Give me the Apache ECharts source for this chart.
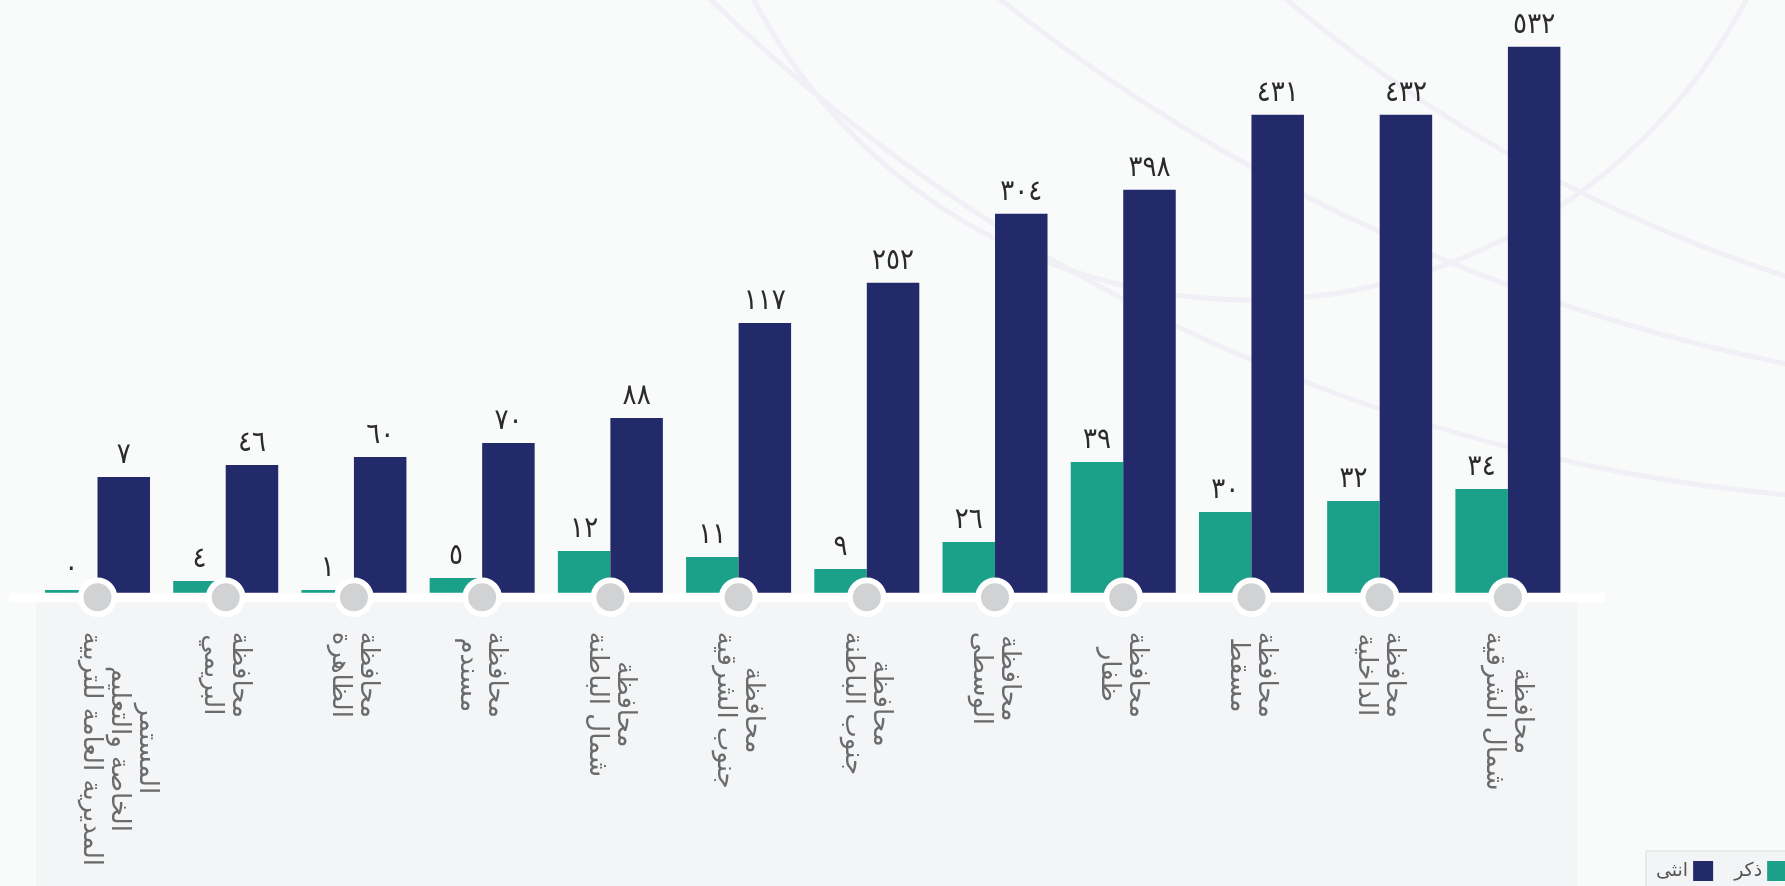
<!DOCTYPE html>
<html>
<head>
<meta charset="utf-8">
<script src="https://cdn.jsdelivr.net/npm/echarts@6/dist/echarts.min.js"></script>
<style>
  html, body { margin: 0; padding: 0; background: #f9fafa; }
  #chart { width: 1785px; height: 886px; }
</style>
</head>
<body>
<div id="chart"></div>
<script>
// Categories (line order as drawn in the picture)
const categories = [
  "المستمر\nالخاصة والتعليم\nالمديرية العامة للتربية",
  "محافظة\nالبريمي",
  "محافظة\nالظاهرة",
  "محافظة\nمسندم",
  "محافظة\nشمال الباطنة",
  "محافظة\nجنوب الشرقية",
  "محافظة\nجنوب الباطنة",
  "محافظة\nالوسطى",
  "محافظة\nظفار",
  "محافظة\nمسقط",
  "محافظة\nالداخلية",
  "محافظة\nشمال الشرقية"
];
// Numbers printed above the bars
const maleLabels   = [0, 4, 1, 5, 12, 11, 9, 26, 39, 30, 32, 34];
const femaleLabels = [7, 46, 60, 70, 88, 117, 252, 304, 398, 431, 432, 532];
// Bar lengths as drawn in the picture (scale: tallest bar = 532)
const maleBars   = [2.6, 11.4, 2.6, 14.3, 40.7, 34.8, 23.1, 49.4, 127.4, 78.7, 89.4, 101.1];
const femaleBars = [112.8, 124.5, 132.3, 145.9, 170.3, 262.9, 301.9, 369.2, 392.6, 465.7, 465.7, 532];

const seriesNames = ["ذكر", "انثى"];
const colors = ["#1ba18a", "#232a69"];

const AR_DIGITS = "٠١٢٣٤٥٦٧٨٩";
function toArabicDigits(n) {
  return String(n).replace(/[0-9]/g, d => AR_DIGITS[+d]);
}

const FONT = "DejaVu Sans";
const chart = echarts.init(document.getElementById("chart"), null, { renderer: "canvas" });

const valueLabel = (arr) => ({
  show: true,
  position: "top",
  distance: 7,
  color: "#2b2b2b",
  fontSize: 29,
  fontFamily: "DejaVu Sans Condensed",
  formatter: (p) => toArabicDigits(arr[p.dataIndex])
});

// the three-line label sits a little to the right of its tick in the picture
const axisData = categories.map((c, i) =>
  c.split("\n").length > 2 ? { value: c, textStyle: { padding: [0, 0, 42, 0] } } : c
);

const arcStyle = { fill: "none", stroke: "#f0f0f6", lineWidth: 5 };

const option = {
  backgroundColor: "#f9fafa",
  animation: false,
  graphic: [
    { type: "circle", z: -5, silent: true, shape: { cx: 1946, cy: -1268, r: 1770 }, style: arcStyle },
    { type: "circle", z: -5, silent: true, shape: { cx: 2150, cy: -1450, r: 1850 }, style: arcStyle },
    { type: "circle", z: -5, silent: true, shape: { cx: 2250, cy: -1150, r: 1500 }, style: arcStyle },
    { type: "circle", z: -5, silent: true, shape: { cx: 1250, cy: -260, r: 560 }, style: arcStyle },
    { type: "rect", z: -2, silent: true, shape: { x: 36, y: 602, width: 1541, height: 290 }, style: { fill: "#f4f5f7" } },
    { type: "rect", z: -1, silent: true, shape: { x: 9, y: 592.7, width: 1596, height: 9.6 }, style: { fill: "#ffffff" } }
  ],
  legend: {
    data: ["انثى", "ذكر"],
    left: 1646,
    top: 851,
    width: 400,
    align: "right",
    icon: "rect",
    itemWidth: 20,
    itemHeight: 20,
    itemGap: 21,
    padding: [10, 10, 10, 10],
    backgroundColor: "#f3f4f6",
    borderColor: "#dcdcdc",
    borderWidth: 1,
    textStyle: { color: "#555", fontSize: 19, fontFamily: FONT }
  },
  grid: { left: 33.4, right: 213, top: 46.7, bottom: 293.3, containLabel: false },
  xAxis: {
    type: "category",
    data: axisData,
    axisLine: { show: false },
    axisTick: { show: false },
    axisLabel: {
      interval: 0,
      rotate: -90,
      margin: 39,
      formatter: (v) => v.split("\n").map(l => "{c|" + l + "}").join("\n"),
      rich: {
        c: { align: "center", color: "#6b6b6b", fontSize: 26, lineHeight: 28, fontFamily: FONT }
      }
    }
  },
  yAxis: {
    type: "value",
    min: 0,
    max: 532,
    show: false,
    splitLine: { show: false }
  },
  series: [
    {
      name: seriesNames[0],
      type: "bar",
      data: maleBars,
      barWidth: 52.5,
      barGap: "0%",
      itemStyle: { color: colors[0] },
      label: valueLabel(maleLabels),
      z: 2
    },
    {
      name: seriesNames[1],
      type: "bar",
      data: femaleBars,
      barWidth: 52.5,
      barGap: "0%",
      itemStyle: { color: colors[1] },
      label: valueLabel(femaleLabels),
      z: 2
    },
    {
      name: "markers",
      type: "custom",
      z: 5,
      silent: true,
      data: categories.map((c, i) => [i, 0]),
      renderItem: (params, api) => {
        const pt = api.coord([api.value(0), 0]);
        return {
          type: "circle",
          shape: { cx: pt[0], cy: pt[1] + 4.6, r: 16.85 },
          style: { fill: "#d1d2d4", stroke: "#ffffff", lineWidth: 5.7 }
        };
      }
    }
  ]
};
chart.setOption(option);
</script>
</body>
</html>
